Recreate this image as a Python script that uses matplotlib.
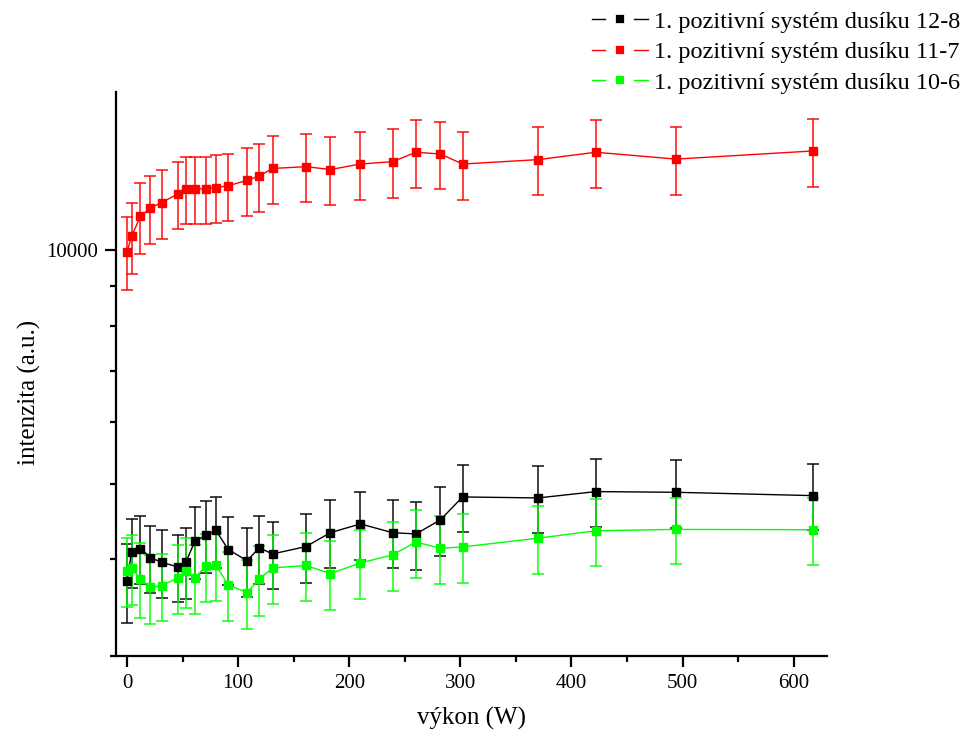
import matplotlib.pyplot as plt
from matplotlib.lines import Line2D
from matplotlib.colors import to_rgba
from matplotlib.ticker import NullFormatter, FixedLocator, MultipleLocator

# výkon (W)
vykon = [0, 4, 12, 21, 31, 46, 53, 61, 71, 80, 91, 108, 119, 131, 161,
         183, 210, 239, 260, 282, 302, 370, 422, 494, 617]

# 1. pozitivní systém dusíku 12-8
i_128 = [3744, 4086, 4127, 4018, 3962, 3907, 3966, 4216, 4292, 4356, 4115, 3981, 4135,
         4062, 4151, 4326, 4440, 4326, 4310, 4493, 4810, 4796, 4887, 4877, 4829]
e_128 = [440, 420, 415, 400, 400, 390, 418, 450, 457, 455, 411, 406, 417,
         405, 422, 435, 445, 435, 433, 455, 480, 475, 490, 488, 472]

# 1. pozitivní systém dusíku 11-7
i_117 = [9960, 10420, 11060, 11340, 11520, 11830, 11990, 12000, 12000, 12050, 12110, 12310, 12470,
         12750, 12820, 12710, 12920, 13010, 13380, 13310, 12920, 13090, 13380, 13110, 13430]
e_117 = [1070, 1090, 1160, 1140, 1170, 1180, 1185, 1200, 1200, 1210, 1210, 1225, 1255,
         1270, 1285, 1275, 1295, 1315, 1340, 1330, 1300, 1310, 1340, 1310, 1345]

# 1. pozitivní systém dusíku 10-6
i_106 = [3861, 3896, 3774, 3677, 3696, 3785, 3861, 3785, 3919, 3925, 3707, 3620, 3770,
         3896, 3925, 3831, 3954, 4050, 4208, 4130, 4147, 4256, 4351, 4368, 4364]
e_106 = [395, 403, 420, 375, 368, 388, 397, 388, 393, 395, 380, 370, 394,
         395, 397, 389, 405, 410, 425, 420, 420, 425, 430, 430, 430]

labels = ['1. pozitivní systém dusíku 12-8',
          '1. pozitivní systém dusíku 11-7',
          '1. pozitivní systém dusíku 10-6']
colors = ['#000000', '#ff0000', '#00ff00']

plt.rcParams['font.family'] = ['Liberation Serif', 'DejaVu Serif']

fig = plt.figure(figsize=(9.68, 7.4), dpi=100)
ax = fig.add_axes([0.1198, 0.1135, 0.7345, 0.7622])

for y, e, c in zip([i_128, i_117, i_106], [e_128, e_117, e_106], colors):
    ax.errorbar(vykon, y, yerr=e, fmt='-s', color=c, lw=1, ms=6, mec=c,
                ecolor=to_rgba(c, 0.8), elinewidth=1.3, capsize=4.5, capthick=1.3)

ax.set_yscale('log')
ax.set_ylim(3000, 16000)
ax.set_xlim(-10, 630)

ax.yaxis.set_major_locator(FixedLocator([10000]))
ax.yaxis.set_minor_locator(FixedLocator([3000, 4000, 5000, 6000, 7000, 8000, 9000]))
ax.yaxis.set_minor_formatter(NullFormatter())
ax.set_yticklabels(['10000'])
ax.xaxis.set_major_locator(MultipleLocator(100))
ax.xaxis.set_minor_locator(MultipleLocator(50))

for s in ['top', 'right']:
    ax.spines[s].set_visible(False)
for s in ['left', 'bottom']:
    ax.spines[s].set_linewidth(1.6)

ax.tick_params(which='major', direction='out', length=8, width=1.6, labelsize=15, pad=5)
ax.tick_params(which='minor', direction='out', length=4.5, width=1.6)

ax.set_xlabel('výkon (W)', fontsize=18)
ax.set_ylabel('intenzita (a.u.)', fontsize=18)
ax.xaxis.set_label_coords(0.5, -0.09)
ax.yaxis.set_label_coords(-0.106, 0.468)

handles = [Line2D([], [], color=c, lw=1, marker='s', ms=12.5, mfc=c,
                  mec='white', mew=7) for c in colors]
fig.legend(handles, labels, loc='upper right', bbox_to_anchor=(1.007, 1.005),
           frameon=False, fontsize=17.5, handlelength=2.3, handletextpad=0.25,
           labelspacing=0.35, borderaxespad=0.2)

fig.savefig('out.png', dpi=100)
